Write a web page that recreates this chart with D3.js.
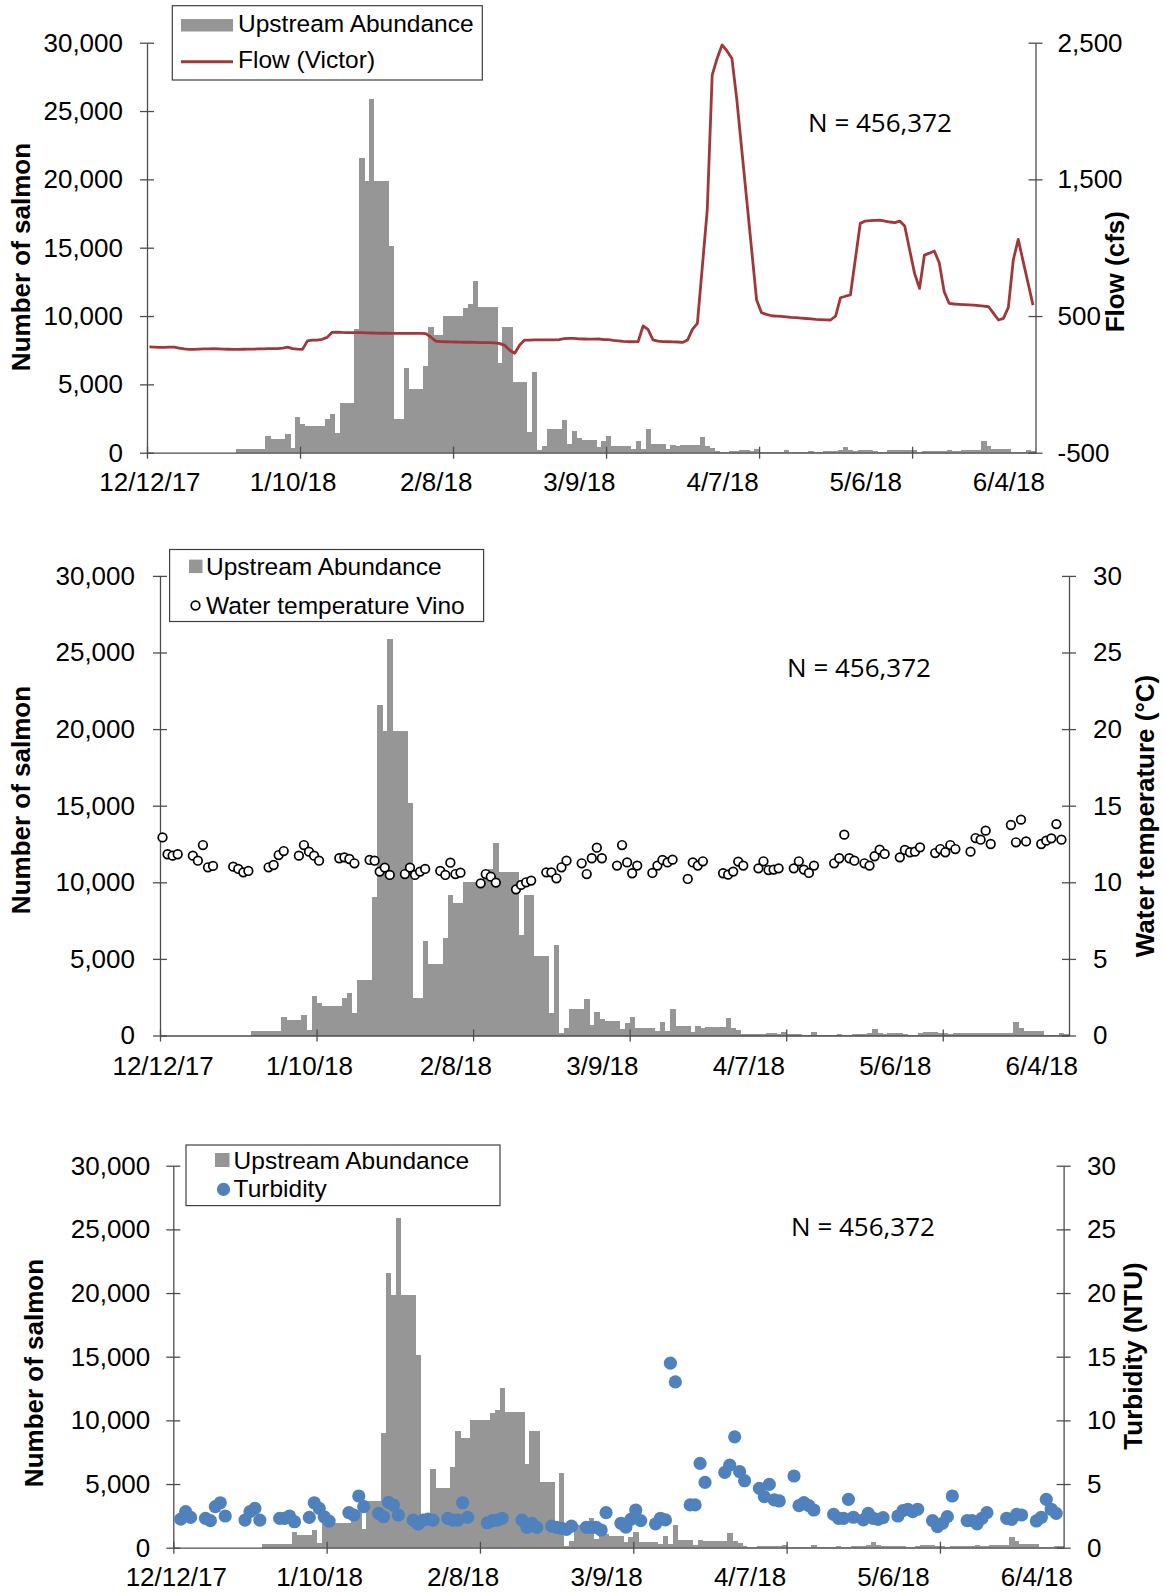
<!DOCTYPE html>
<html><head><meta charset="utf-8">
<script src="https://cdn.jsdelivr.net/npm/d3@7"></script>
<style>body{margin:0;background:#fff;}svg{display:block;}</style>
</head><body>
<svg id="chart" width="1164" height="1593"></svg>
<script>
// ---------- DATA ----------
const xLabels = ["12/12/17","1/10/18","2/8/18","3/9/18","4/7/18","5/6/18","6/4/18"];
const xLabelDays = [0,29,58,87,116,145,174];
const xTickDays = [0,31,62,93,124,155];
const salmonTicks = [0,5000,10000,15000,20000,25000,30000];
const flowTicks = [-500,500,1500,2500];
const rightTicks = [0,5,10,15,20,25,30];
const nLabel = "N = 456,372";

// daily upstream abundance, 12/12/17 (day 0) .. 6/9/18 (day 179)
const abundance = [
0,0,0,0,0,0,0,0,0,0,
0,0,0,0,0,0,0,0,270,270,
280,280,280,300,1195,1000,1000,1000,1366,340,
2585,2120,1950,1950,1950,1950,2440,2800,1460,3630,
3630,3630,9020,21580,19850,25880,19850,19850,19850,15150,
2440,2440,6170,4660,4660,4660,6340,9200,8630,8630,
10000,10000,10000,10000,10610,10850,12540,10660,10660,10660,
10660,6590,9200,9200,5170,5170,5170,1500,5900,170,
490,1760,1760,1760,2370,660,1560,1070,950,950,
950,415,830,1220,470,470,470,470,290,880,
290,1760,610,610,610,240,590,500,530,530,
530,530,1170,490,340,120,80,80,100,100,
170,170,100,240,80,80,80,60,60,220,
50,50,50,50,100,50,50,120,120,120,
195,415,195,100,170,170,170,100,50,50,
170,220,220,220,170,170,70,146,146,146,
146,146,195,146,146,195,195,195,195,850,
490,270,270,270,270,25,25,25,170,120
];

// daily flow at Victor (cfs)
const flowVictor = [
275,273,270,270,272,272,266,260,256,256,
258,259,260,261,260,258,257,256,256,257,
258,258,259,260,261,262,262,265,272,262,
258,256,318,324,324,330,344,381,382,380,
379,378,378,378,377,376,375,374,374,373,
373,373,373,373,373,373,372,345,316,313,
312,311,310,309,308,308,307,306,305,305,
303,298,285,250,228,288,324,324,325,325,
325,326,326,328,334,337,336,333,332,331,
331,333,328,328,322,318,314,312,312,313,
427,402,326,316,313,312,311,310,307,324,
402,446,860,1276,2263,2385,2483,2440,2385,2080,
1714,1348,983,617,524,512,502,500,497,494,
490,488,485,482,479,476,474,472,471,500,
634,645,654,916,1178,1195,1198,1200,1202,1195,
1188,1183,1195,1159,985,812,702,946,960,976,
890,678,593,588,586,584,582,580,576,572,
568,520,471,483,563,910,1061,900,740,580
];

// water temperature at Vino (deg C)
const tempDays = [0,1,2,3,6,7,8,9,10,14,15,16,17,21,22,23,24,27,28,29,30,31,35,36,37,38,
41,42,43,44,45,48,49,50,51,52,55,56,57,58,59,63,64,65,66,70,71,72,73,76,77,78,79,80,
83,84,85,86,87,90,91,92,93,94,97,98,99,100,101,104,105,106,107,111,112,113,114,115,
118,119,120,121,122,125,126,127,128,129,133,134,135,136,137,139,140,141,142,143,
146,147,148,149,150,153,154,155,156,157,160,161,162,163,164,168,169,170,171,174,175,176,177,178];
const tempValues = [12.93,11.83,11.74,11.83,11.74,11.41,12.43,10.98,11.07,11.02,10.87,10.65,10.74,10.98,11.13,11.78,12.04,11.74,12.43,12.0,11.74,11.41,11.57,11.63,11.52,11.24,
11.46,11.41,10.70,10.96,10.48,10.54,10.96,10.48,10.70,10.87,10.74,10.48,11.28,10.54,10.63,9.93,10.54,10.37,9.98,9.54,9.83,10.0,10.11,10.65,10.65,10.26,10.98,11.41,
11.24,10.54,11.57,12.26,11.57,11.09,12.43,11.30,10.59,11.09,10.61,11.09,11.46,11.30,11.48,10.22,11.30,11.09,11.37,10.59,10.50,10.70,11.35,11.09,
10.91,11.37,10.80,10.83,10.91,10.91,11.37,10.83,10.61,11.09,11.24,11.57,13.11,11.57,11.41,11.24,11.09,11.70,12.13,11.85,
11.63,12.11,11.96,12.0,12.28,11.91,12.17,11.96,12.43,12.17,12.0,12.89,12.78,13.37,12.5,13.74,12.61,14.09,12.67,12.5,12.72,12.87,13.8,12.78];

// turbidity (NTU)
const turbDays = [1,2,3,6,7,8,9,10,14,15,16,17,21,22,23,24,27,28,29,30,31,35,36,37,38,
41,42,43,44,45,48,49,50,51,52,55,56,57,58,59,63,64,65,66,70,71,72,73,76,77,78,79,80,
83,84,85,86,87,90,91,92,93,94,97,98,99,100,101,104,105,106,107,111,112,113,114,115,
118,119,120,121,122,125,126,127,128,129,133,134,135,136,137,139,140,141,142,143,
146,147,148,149,150,153,154,155,156,157,160,161,162,163,164,168,169,170,171,174,175,176,177,178];
const turbValues = [2.25,2.83,2.38,2.30,2.12,3.22,3.53,2.49,2.17,2.83,3.09,2.17,2.30,2.30,2.49,2.04,2.38,3.53,3.09,2.43,2.09,2.75,2.57,4.06,3.22,
2.70,2.43,3.56,3.35,2.57,2.17,1.86,2.17,2.25,2.17,2.30,2.17,2.17,3.53,2.38,1.96,2.12,2.17,2.30,2.17,1.60,1.91,1.60,1.70,1.60,1.52,1.44,1.70,
1.60,1.60,1.60,1.39,2.75,1.92,1.61,2.23,2.96,2.13,1.87,2.31,2.18,14.5,13.02,3.36,3.36,6.62,5.13,5.91,6.49,8.71,5.97,5.26,
4.66,4.01,4.97,3.75,3.67,5.63,3.30,3.54,3.30,2.96,2.62,2.31,2.31,3.80,2.39,2.18,2.70,2.31,2.23,2.36,
2.49,2.91,3.02,2.83,3.02,2.13,1.66,1.92,2.44,4.06,2.13,2.13,1.87,2.31,2.75,2.31,2.23,2.62,2.57,2.10,2.39,3.80,3.02,2.70];

// ---------- DRAWING ----------
const svg = d3.select("#chart");
const FONT = "'Liberation Sans', Arial, Helvetica, sans-serif";
const NFONT = "'Open Sans', 'Noto Sans', sans-serif";
const AXIS = "#4d4d4d";
const BAR = "#969696";
const FLOW = "#A0373A";
const BLUE = "#4F81BD";
const commaFmt = d => d3.format(",")(d).replace("\u2212", "-");

function styleAxis(sel) {
  sel.select(".domain").attr("stroke", AXIS).attr("stroke-width", 1.3);
  sel.selectAll(".tick line").attr("stroke", AXIS).attr("stroke-width", 1.3);
  sel.selectAll("text").attr("font-family", FONT).attr("font-size", 26).attr("fill", "#000");
}

function panel(o) {
  const x = d3.scaleLinear().domain([0, 180]).range([o.left, o.right]);
  const y = d3.scaleLinear().domain([0, 30000]).range([o.bottom, o.top]);
  const y2 = d3.scaleLinear().domain(o.rDomain).range([o.bottom, o.top]);
  const g = svg.append("g");

  // bars
  g.append("g").attr("shape-rendering", "crispEdges")
    .selectAll("rect")
    .data(abundance.map((v, i) => ({v, i})).filter(d => d.v > 0))
    .join("rect")
    .attr("x", d => x(d.i))
    .attr("width", d => x(d.i + 1) - x(d.i) + 0.4)
    .attr("y", d => y(d.v))
    .attr("height", d => y(0) - y(d.v))
    .attr("fill", BAR);

  // left axis
  const la = g.append("g").attr("transform", `translate(${o.left},0)`)
    .call(d3.axisLeft(y).tickValues(salmonTicks).tickFormat(commaFmt)
      .tickSizeInner(7).tickSizeOuter(0).tickPadding(o.lPad));
  styleAxis(la);
  la.selectAll(".tick line").attr("x1", 7);

  // right axis
  const ra = g.append("g").attr("transform", `translate(${o.right},0)`)
    .call(d3.axisRight(y2).tickValues(o.rTicks).tickFormat(o.rFormat)
      .tickSizeInner(7).tickSizeOuter(0).tickPadding(o.rPad));
  styleAxis(ra);
  ra.selectAll(".tick line").attr("x1", -7);

  // bottom axis: tick marks
  const ba = g.append("g").attr("transform", `translate(0,${o.bottom})`)
    .call(d3.axisBottom(x).tickValues(xTickDays).tickFormat(() => "")
      .tickSizeInner(6).tickSizeOuter(0));
  styleAxis(ba);
  ba.selectAll(".tick line").attr("y1", -6);

  // bottom axis: labels
  const bl = g.append("g").attr("transform", `translate(0,${o.bottom})`)
    .call(d3.axisBottom(x).tickValues(xLabelDays.map(d => d + 0.5))
      .tickFormat((d, i) => xLabels[i]).tickSize(0).tickPadding(o.bPad));
  styleAxis(bl);
  bl.select(".domain").remove();

  // axis titles
  g.append("text").attr("transform", `translate(${o.lTitleX},${o.lTitleY}) rotate(-90)`)
    .attr("text-anchor", "middle").attr("dy", "0.36em")
    .attr("font-family", FONT).attr("font-size", 26).attr("font-weight", "bold")
    .text("Number of salmon");
  g.append("text").attr("transform", `translate(${o.rTitleX},${o.rTitleY}) rotate(-90)`)
    .attr("text-anchor", "middle").attr("dy", "0.36em")
    .attr("font-family", FONT).attr("font-size", 26).attr("font-weight", "bold")
    .text(o.rTitle);

  // series
  o.series(g, x, y2);

  // N label
  g.append("text").attr("x", o.nX).attr("y", o.nY).attr("text-anchor", "middle")
    .attr("font-family", NFONT).attr("font-size", 26).attr("fill", "#000").text(nLabel);

  // legend
  const lg = g.append("g");
  lg.append("rect").attr("x", o.leg.x).attr("y", o.leg.y).attr("width", o.leg.w).attr("height", o.leg.h)
    .attr("fill", "#fff").attr("stroke", "#404040").attr("stroke-width", 1.2);
  o.legendItems(lg);
  return {x, y, y2};
}

function legText(sel, x, y, t) {
  sel.append("text").attr("x", x).attr("y", y).attr("font-family", FONT)
    .attr("font-size", 24.5).attr("fill", "#000").text(t);
}

// Panel 1: flow
panel({
  left: 147, right: 1035.5, top: 42.7, bottom: 452.7,
  rDomain: [-500, 2500], rTicks: flowTicks, rFormat: commaFmt,
  lPad: 17, rPad: 15, bPad: 19.5,
  lTitleX: 20.3, lTitleY: 257, rTitleX: 1115, rTitleY: 271.7, rTitle: "Flow (cfs)",
  nX: 880, nY: 132,
  leg: {x: 172.3, y: 5.7, w: 310, h: 74.3},
  series: (g, x, y2) => {
    g.append("path").datum(flowVictor)
      .attr("d", d3.line().x((d, i) => x(i + 0.5)).y(d => y2(d)))
      .attr("fill", "none").attr("stroke", FLOW).attr("stroke-width", 2.8)
      .attr("stroke-linejoin", "round");
  },
  legendItems: (lg) => {
    lg.append("rect").attr("x", 181).attr("y", 19).attr("width", 52).attr("height", 12.5).attr("fill", BAR);
    legText(lg, 238, 31.5, "Upstream Abundance");
    lg.append("line").attr("x1", 181).attr("x2", 233).attr("y1", 61.7).attr("y2", 61.7)
      .attr("stroke", FLOW).attr("stroke-width", 3);
    legText(lg, 238, 68.3, "Flow (Victor)");
  }
});

// Panel 2: water temperature
panel({
  left: 160, right: 1069, top: 575.9, bottom: 1035.5,
  rDomain: [0, 30], rTicks: rightTicks, rFormat: d3.format("d"),
  lPad: 18, rPad: 17, bPad: 21,
  lTitleX: 20.3, lTitleY: 800, rTitleX: 1145, rTitleY: 816, rTitle: "Water temperature (°C)",
  nX: 859, nY: 677,
  leg: {x: 169.6, y: 549.5, w: 314, h: 72},
  series: (g, x, y2) => {
    g.append("g").selectAll("circle").data(tempDays.map((d, i) => ({d, v: tempValues[i]}))).join("circle")
      .attr("cx", p => x(p.d + 0.5)).attr("cy", p => y2(p.v)).attr("r", 4.3)
      .attr("fill", "#fff").attr("stroke", "#000").attr("stroke-width", 1.7);
  },
  legendItems: (lg) => {
    lg.append("rect").attr("x", 189).attr("y", 559.6).attr("width", 13.5).attr("height", 13.5).attr("fill", BAR);
    legText(lg, 206, 575, "Upstream Abundance");
    lg.append("circle").attr("cx", 195.5).attr("cy", 605.5).attr("r", 4.3)
      .attr("fill", "#fff").attr("stroke", "#000").attr("stroke-width", 1.7);
    legText(lg, 206, 613.5, "Water temperature Vino");
  }
});

// Panel 3: turbidity
panel({
  left: 173.3, right: 1063.6, top: 1165.7, bottom: 1547.7,
  rDomain: [0, 30], rTicks: rightTicks, rFormat: d3.format("d"),
  lPad: 16, rPad: 16.4, bPad: 19.5,
  lTitleX: 33.5, lTitleY: 1373, rTitleX: 1132.5, rTitleY: 1356, rTitle: "Turbidity (NTU)",
  nX: 863, nY: 1236,
  leg: {x: 186, y: 1145, w: 314, h: 60.6},
  series: (g, x, y2) => {
    g.append("g").selectAll("circle").data(turbDays.map((d, i) => ({d, v: turbValues[i]}))).join("circle")
      .attr("cx", p => x(p.d + 0.5)).attr("cy", p => y2(p.v)).attr("r", 6.6)
      .attr("fill", BLUE);
  },
  legendItems: (lg) => {
    lg.append("rect").attr("x", 215).attr("y", 1153).attr("width", 14.5).attr("height", 14).attr("fill", BAR);
    legText(lg, 233.6, 1169, "Upstream Abundance");
    lg.append("circle").attr("cx", 223.5).attr("cy", 1189.4).attr("r", 6.6).attr("fill", BLUE);
    legText(lg, 233.6, 1196.5, "Turbidity");
  }
});
</script>
</body></html>
